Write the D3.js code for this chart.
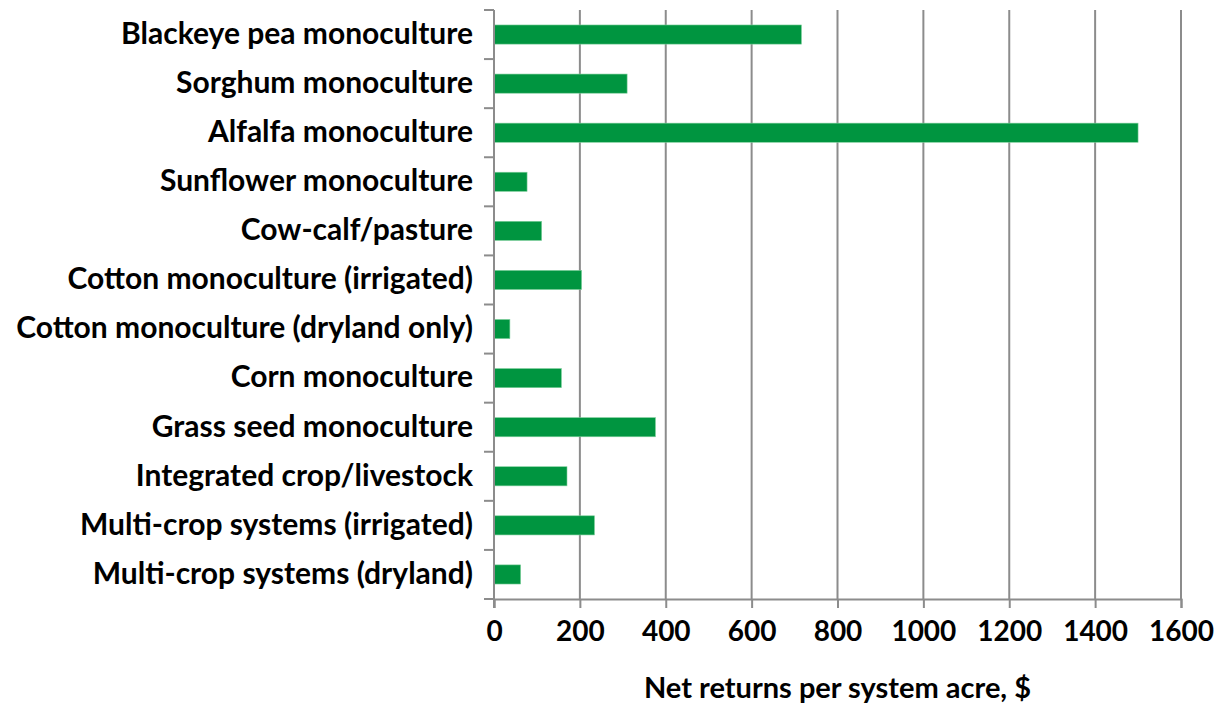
<!DOCTYPE html>
<html>
<head>
<meta charset="utf-8">
<script src="https://cdn.jsdelivr.net/npm/d3@7"></script>
<style>
  body { margin: 0; background: #fff; }
  svg text { font-family: Lato, "Open Sans", sans-serif; font-weight: bold; fill: #000; }
</style>
</head>
<body>
<div id="chart"></div>
<script>
const categories = [
  "Blackeye pea monoculture",
  "Sorghum monoculture",
  "Alfalfa monoculture",
  "Sunflower monoculture",
  "Cow-calf/pasture",
  "Cotton monoculture (irrigated)",
  "Cotton monoculture (dryland only)",
  "Corn monoculture",
  "Grass seed monoculture",
  "Integrated crop/livestock",
  "Multi-crop systems (irrigated)",
  "Multi-crop systems (dryland)"
];
const netReturns = [716, 310, 1500, 77, 111, 204, 37, 157, 376, 170, 234, 62];
const xTicks = [0, 200, 400, 600, 800, 1000, 1200, 1400, 1600];
const xTitle = "Net returns per system acre, $";

const width = 1220;
const height = 703;
const margin = { top: 10, right: 39, bottom: 104, left: 494 };

const svg = d3.select("#chart")
  .append("svg")
  .attr("width", width)
  .attr("height", height);

const x = d3.scaleLinear()
  .domain([0, 1600])
  .range([margin.left, width - margin.right]);

const y = d3.scaleBand()
  .domain(categories)
  .range([margin.top, height - margin.bottom])
  .paddingInner(0.61)
  .paddingOuter(0.305);

const band = d3.scaleBand()
  .domain(categories)
  .range([margin.top, height - margin.bottom]);

// vertical gridlines
svg.append("g")
  .selectAll("line")
  .data(xTicks.slice(1))
  .enter()
  .append("line")
  .attr("x1", d => x(d))
  .attr("x2", d => x(d))
  .attr("y1", margin.top)
  .attr("y2", height - margin.bottom)
  .attr("stroke", "#8c8c8c")
  .attr("stroke-width", 2);

// bars
svg.append("g")
  .selectAll("rect")
  .data(categories)
  .enter()
  .append("rect")
  .attr("x", x(0))
  .attr("y", d => y(d))
  .attr("width", (d, i) => x(netReturns[i]) - x(0))
  .attr("height", y.bandwidth())
  .attr("fill", "#009540")
  .attr("stroke", "#7fcf9c")
  .attr("stroke-width", 0.6);

// x axis
const xAxis = svg.append("g")
  .attr("transform", `translate(0,${height - margin.bottom})`)
  .call(d3.axisBottom(x).tickValues(xTicks).tickFormat(d3.format("d")).tickSize(9).tickPadding(13));
xAxis.select(".domain").attr("stroke", "#8c8c8c").attr("stroke-width", 2);
xAxis.selectAll(".tick line").attr("stroke", "#8c8c8c").attr("stroke-width", 2);
xAxis.selectAll("text").style("font-size", "28px").attr("fill", "#000");

// y axis: ticks at band boundaries
const yAxis = svg.append("g")
  .attr("transform", `translate(${margin.left},0)`);
yAxis.append("line")
  .attr("x1", 0).attr("x2", 0)
  .attr("y1", margin.top).attr("y2", height - margin.bottom + 9)
  .attr("stroke", "#8c8c8c")
  .attr("stroke-width", 2);
yAxis.selectAll(".ytick")
  .data(categories)
  .enter()
  .append("line")
  .attr("class", "ytick")
  .attr("x1", -10).attr("x2", 0)
  .attr("y1", d => band(d))
  .attr("y2", d => band(d))
  .attr("stroke", "#8c8c8c")
  .attr("stroke-width", 2);
yAxis.append("line")
  .attr("x1", -10).attr("x2", 0)
  .attr("y1", height - margin.bottom)
  .attr("y2", height - margin.bottom)
  .attr("stroke", "#8c8c8c")
  .attr("stroke-width", 2);

yAxis.selectAll(".ylabel")
  .data(categories)
  .enter()
  .append("text")
  .attr("class", "ylabel")
  .attr("x", -21)
  .attr("y", d => band(d) + band.bandwidth() / 2)
  .attr("dy", "0.31em")
  .attr("text-anchor", "end")
  .style("font-size", "30px")
  .text(d => d);

// x title
svg.append("text")
  .attr("x", (x(0) + x(1600)) / 2)
  .attr("y", 698)
  .attr("text-anchor", "middle")
  .style("font-size", "29px")
  .text(xTitle);
</script>
</body>
</html>
